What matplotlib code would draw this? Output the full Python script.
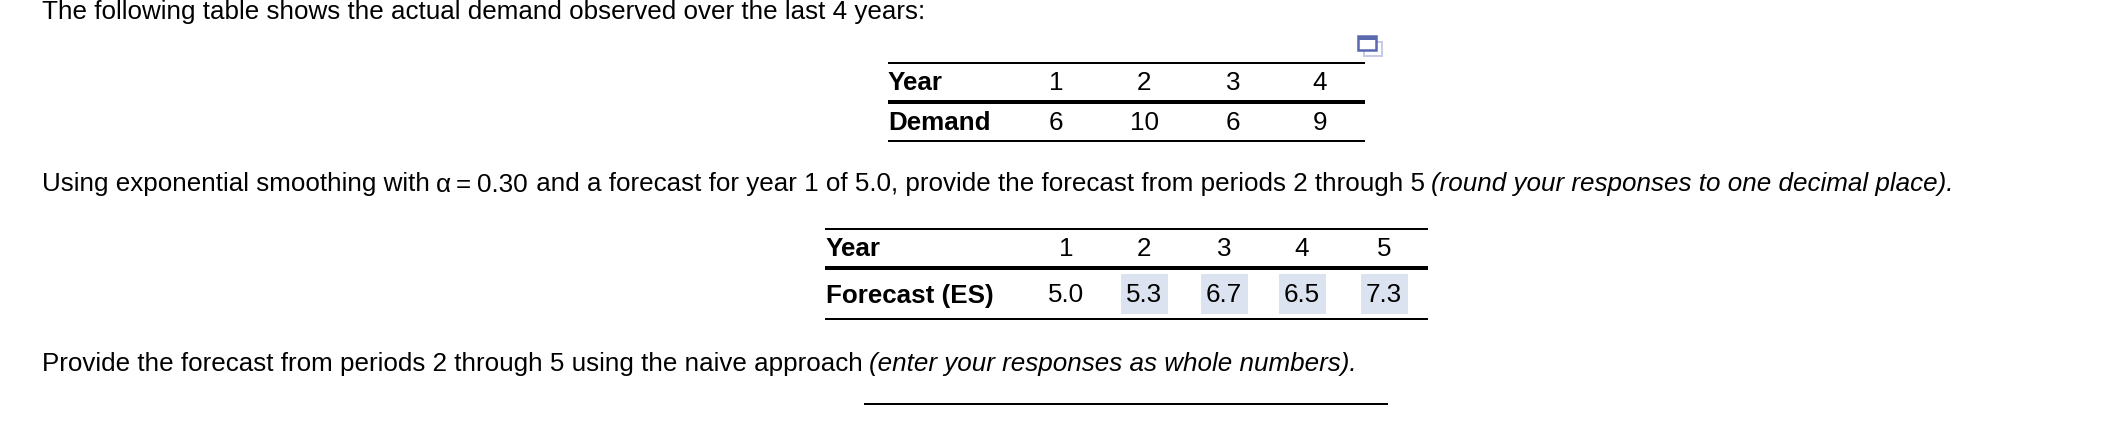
import matplotlib
matplotlib.use('Agg')
import matplotlib.pyplot as plt
from matplotlib.patches import Rectangle

plt.rcParams['font.family'] = ['Liberation Sans', 'DejaVu Sans']

# table data
demand_years = ['1', '2', '3', '4']
demand_values = ['6', '10', '6', '9']
forecast_years = ['1', '2', '3', '4', '5']
forecast_values = ['5.0', '5.3', '6.7', '6.5', '7.3']
answered = [False, True, True, True, True]

intro = 'The following table shows the actual demand observed over the last 4 years:'
es_a = 'Using exponential smoothing with '
es_b = ' and a forecast for year 1 of 5.0, provide the forecast from periods 2 through 5 '
es_note = '(round your responses to one decimal place).'
naive = 'Provide the forecast from periods 2 through 5 using the naive approach '
naive_note = '(enter your responses as whole numbers).'

FS = 18.72
fig = plt.figure(figsize=(21.06, 4.42), dpi=100)
ax = fig.add_axes([0, 0, 1, 1])
ax.set_xlim(0, 2106)
ax.set_ylim(442, 0)
ax.axis('off')


def txt(x, y, s, **kw):
    kw.setdefault('fontsize', FS)
    kw.setdefault('va', 'center_baseline')
    kw.setdefault('color', 'black')
    return ax.text(x, y, s, **kw)


def hline(x0, x1, y, lw):
    # lw given in pixels
    ax.plot([x0, x1], [y, y], color='black', lw=lw * 0.72, solid_capstyle='butt')


# paragraphs
txt(42, 9, intro)
txt(42, 182, es_a)
txt(436, 182, 'α')
txt(456, 182, '=')
txt(477, 182, '0.30')
txt(529, 182, es_b)
txt(1431, 182, es_note, style='italic')
txt(42, 361, naive)
txt(869, 361, naive_note, style='italic')

# little copy icon
ax.add_patch(Rectangle((1364, 42), 18, 14, fc='white', ec='#c5cae6', lw=1.4))
ax.add_patch(Rectangle((1358, 36), 18, 14, fc='white', ec='#5a68ad', lw=1.8))
ax.add_patch(Rectangle((1358, 36), 18, 4, fc='#5a68ad', ec='none'))

# demand table
hline(888, 1365, 63, 2)
hline(888, 1365, 102, 4)
hline(888, 1365, 141, 2)
txt(888, 80, 'Year', weight='bold')
txt(888, 120, 'Demand', weight='bold')
demand_x = [1056, 1144, 1233, 1320]
for x, yr, val in zip(demand_x, demand_years, demand_values):
    txt(x, 80, yr, ha='center')
    txt(x, 120, val, ha='center')

# forecast table
hline(825, 1428, 229, 2)
hline(825, 1428, 268, 4)
hline(825, 1428, 319, 2)
txt(826, 246, 'Year', weight='bold')
txt(826, 293, 'Forecast (ES)', weight='bold')
forecast_x = [1066, 1144, 1224, 1302, 1384]
for x, yr, val, ans in zip(forecast_x, forecast_years, forecast_values, answered):
    txt(x, 246, yr, ha='center')
    if ans:
        ax.add_patch(Rectangle((x - 23.5, 274), 47, 40, fc='#dce3f0', ec='none'))
    txt(x, 292, val, ha='center')

# answer line
hline(864, 1388, 404, 2)

fig.savefig('out.png', dpi=100)
